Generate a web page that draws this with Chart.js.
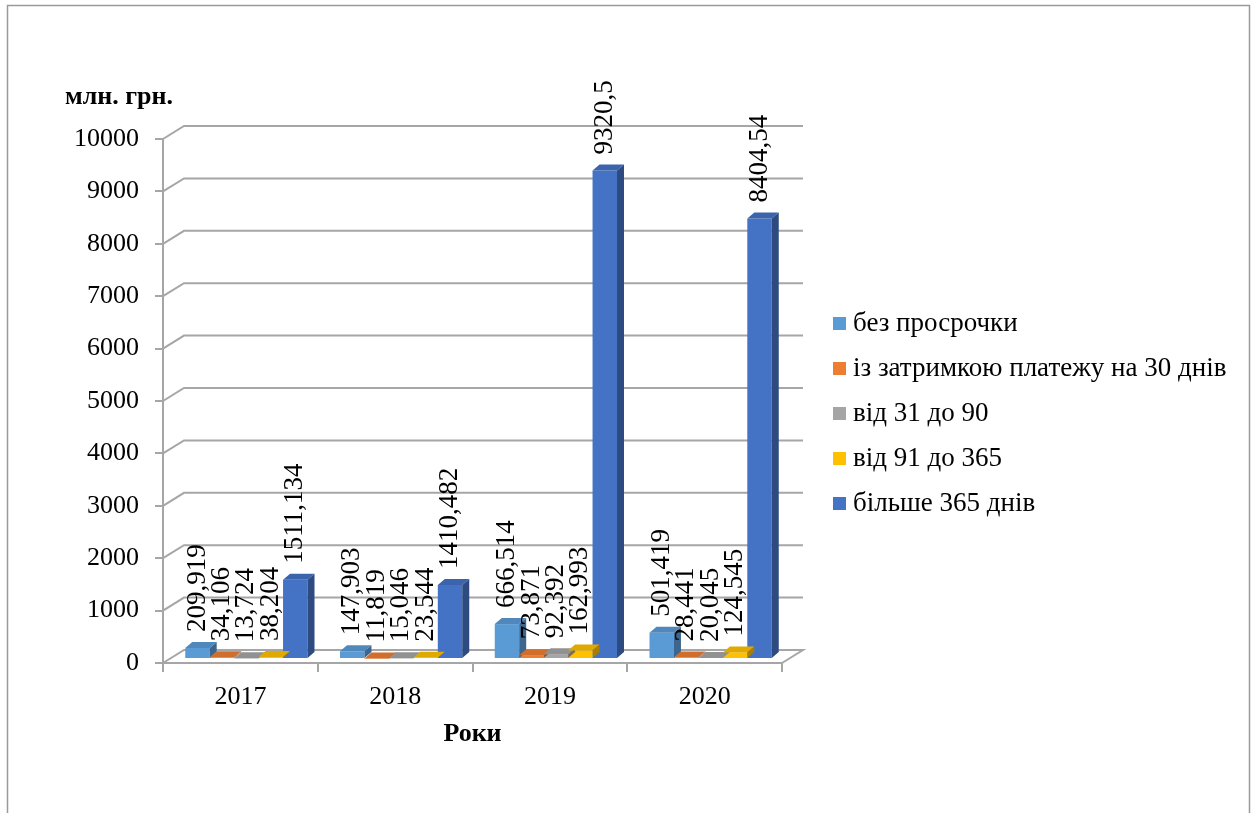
<!DOCTYPE html>
<html>
<head>
<meta charset="utf-8">
<script src="https://cdn.jsdelivr.net/npm/chart.js@4.4.1/dist/chart.umd.min.js"></script>
<style>
  html, body { margin: 0; padding: 0; background: #fff; }
  canvas { display: block; }
</style>
</head>
<body>
<canvas id="debtChart" width="1256" height="813"></canvas>
<script>
// data
const years = ['2017', '2018', '2019', '2020'];
const seriesNames = [
    'без просрочки',
    'із затримкою платежу на 30 днів',
    'від 31 до 90',
    'від 91 до 365',
    'більше 365 днів'
];
const noDelay = [209.919, 147.903, 666.514, 501.419];
const delay30 = [34.106, 11.819, 73.871, 28.441];
const days31to90 = [13.724, 15.046, 92.392, 20.045];
const days91to365 = [38.204, 23.544, 162.993, 124.545];
const over365 = [1511.134, 1410.482, 9320.5, 8404.54];
const yMax = 10000;
const yStep = 1000;

const colors = ['#5b9bd5', '#ed7d31', '#a5a5a5', '#ffc000', '#4472c4'];
const font = "'Liberation Serif', 'Times New Roman', serif";
const gridColor = '#a6a6a6';

// 3D look
const wall = { dx: 21, dy: 13 };
const shift = { x: 6, y: -4 };
const depth = { dx: 7, dy: 6 };

function shade(hex, k) {
    const n = parseInt(hex.slice(1), 16);
    const r = Math.round(((n >> 16) & 255) * k);
    const g = Math.round(((n >> 8) & 255) * k);
    const b = Math.round((n & 255) * k);
    return 'rgb(' + r + ',' + g + ',' + b + ')';
}

const allSeries = [noDelay, delay30, days31to90, days91to365, over365];

const chart3d = {
    id: 'chart3d',
    beforeDatasetsDraw(chart) {
        const { ctx, chartArea: a, scales: { y } } = chart;
        ctx.save();
        ctx.strokeStyle = gridColor;
        ctx.lineWidth = 2;
        y.ticks.forEach(t => {
            const py = y.getPixelForValue(t.value);
            ctx.beginPath();
            ctx.moveTo(a.left, py);
            ctx.lineTo(a.left + wall.dx, py - wall.dy);
            ctx.lineTo(a.right + wall.dx, py - wall.dy);
            if (t.value === 0) ctx.lineTo(a.right, py);
            ctx.stroke();
        });
        ctx.restore();
        ctx.save();
        ctx.translate(shift.x, shift.y);
    },
    afterDatasetsDraw(chart) {
        const ctx = chart.ctx;
        // top and side faces
        chart.data.datasets.forEach((ds, i) => {
            chart.getDatasetMeta(i).data.forEach(el => {
                const p = el.getProps(['x', 'y', 'base', 'width'], true);
                const l = p.x - p.width / 2, r = p.x + p.width / 2;
                ctx.fillStyle = shade(colors[i], 0.88);
                ctx.beginPath();
                ctx.moveTo(l, p.y);
                ctx.lineTo(l + depth.dx, p.y - depth.dy);
                ctx.lineTo(r + depth.dx, p.y - depth.dy);
                ctx.lineTo(r, p.y);
                ctx.closePath();
                ctx.fill();
                ctx.fillStyle = shade(colors[i], 0.66);
                ctx.beginPath();
                ctx.moveTo(r, p.y);
                ctx.lineTo(r + depth.dx, p.y - depth.dy);
                ctx.lineTo(r + depth.dx, p.base - depth.dy);
                ctx.lineTo(r, p.base);
                ctx.closePath();
                ctx.fill();
            });
        });
        // vertical value labels
        ctx.fillStyle = '#000';
        ctx.font = '27px ' + font;
        ctx.textAlign = 'left';
        ctx.textBaseline = 'middle';
        chart.data.datasets.forEach((ds, i) => {
            chart.getDatasetMeta(i).data.forEach((el, j) => {
                const p = el.getProps(['x', 'y'], true);
                ctx.save();
                ctx.translate(p.x, p.y - 16);
                ctx.rotate(-Math.PI / 2);
                ctx.fillText(String(ds.data[j]).replace('.', ','), 0, 0);
                ctx.restore();
            });
        });
        ctx.restore();
    },
    afterDraw(chart) {
        const ctx = chart.ctx;
        ctx.save();
        // outer frame
        ctx.strokeStyle = '#9a9a9a';
        ctx.lineWidth = 1.5;
        ctx.strokeRect(7.5, 5.5, 1242, 900);
        // axis titles
        ctx.fillStyle = '#000';
        ctx.font = 'bold 26px ' + font;
        ctx.textBaseline = 'middle';
        ctx.textAlign = 'left';
        ctx.fillText('млн. грн.', 65, 97);
        ctx.textAlign = 'center';
        const a = chart.chartArea;
        ctx.fillText('Роки', (a.left + a.right) / 2, 734);
        // legend
        ctx.font = '27px ' + font;
        ctx.textAlign = 'left';
        seriesNames.forEach((name, i) => {
            const cy = 323 + i * 45;
            ctx.fillStyle = colors[i];
            ctx.fillRect(833, cy - 6, 13, 13);
            ctx.fillStyle = '#000';
            ctx.fillText(name, 853, cy + 1);
        });
        ctx.restore();
    }
};

const ctx = document.getElementById('debtChart').getContext('2d');

new Chart(ctx, {
    type: 'bar',
    data: {
        labels: years,
        datasets: allSeries.map((values, i) => ({
            label: seriesNames[i],
            data: values,
            backgroundColor: colors[i],
            borderWidth: 0
        }))
    },
    options: {
        responsive: false,
        animation: false,
        categoryPercentage: 0.79,
        barPercentage: 1,
        layout: { padding: { left: 53, right: 474, top: 139, bottom: 90 } },
        plugins: {
            legend: { display: false },
            tooltip: { enabled: false }
        },
        scales: {
            x: {
                afterFit(scale) { scale.height = 60; },
                grid: { drawOnChartArea: false, drawTicks: true, tickLength: 9, color: gridColor, lineWidth: 2 },
                border: { display: true, color: gridColor, width: 2 },
                ticks: { color: '#000', padding: 10, font: { family: font, size: 26 } }
            },
            y: {
                min: 0,
                max: yMax,
                afterFit(scale) { scale.width = 110; },
                grid: { drawOnChartArea: false, drawTicks: true, tickLength: 8, color: gridColor, lineWidth: 2 },
                border: { display: true, color: gridColor, width: 2 },
                ticks: {
                    stepSize: yStep,
                    color: '#000',
                    padding: 16,
                    font: { family: font, size: 26 },
                    callback: v => String(v)
                }
            }
        }
    },
    plugins: [chart3d]
});
</script>
</body>
</html>
